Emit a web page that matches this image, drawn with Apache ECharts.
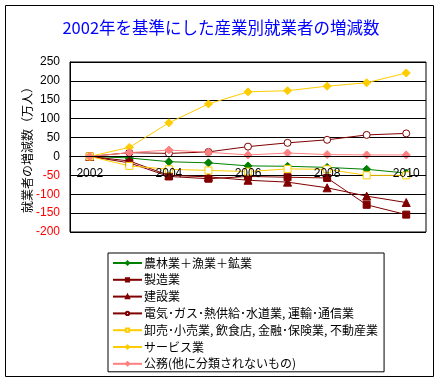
<!DOCTYPE html>
<html>
<head>
<meta charset="utf-8">
<script src="https://cdn.jsdelivr.net/npm/echarts@6/dist/echarts.min.js"></script>
<style>html,body{margin:0;padding:0;background:#fff;}#c{width:442px;height:384px;}</style>
</head>
<body>
<div id="c"></div>
<script>
const years = ['2002','2003','2004','2005','2006','2007','2008','2009','2010'];
const seriesNames = [
  '農林業＋漁業＋鉱業',
  '製造業',
  '建設業',
  '電気･ガス･熱供給･水道業, 運輸･通信業',
  '卸売･小売業, 飲食店, 金融･保険業, 不動産業',
  'サービス業',
  '公務(他に分類されないもの)'
];
const agriculture   = [0, -4, -14, -17, -25, -26, -29, -34, -44];
const manufacturing = [0, -17, -53, -59, -53, -55, -57, -128, -154];
const construction  = [0, -12, -50, -54, -63, -68, -83, -105, -122];
const utilities     = [0, 10, 8, 12, 26, 36, 44, 57, 61];
const wholesale     = [0, -25, -34, -37, -40, -33, -34, -50, -50];
const services      = [0, 24, 89, 139, 171, 174, 186, 195, 221];
const publicService = [0, 10, 17, 11, 4, 9, 5, 4, 4];
const yTicks = [-200, -150, -100, -50, 0, 50, 100, 150, 200, 250];

const JP = "'Noto Sans CJK JP', sans-serif";
const NUM = "'Liberation Sans', Arial, sans-serif";

const H = 384, GRID_TOP = 62, GRID_BOTTOM = 152;
const yMin = yTicks[0], yMax = yTicks[yTicks.length - 1];
const gridH = H - GRID_TOP - GRID_BOTTOM;
const zeroOffset = -gridH * (0 - yMin) / (yMax - yMin);

function mk(name, data, color, symbol, size, fill) {
  return {
    name: name, type: 'line', data: data,
    symbol: symbol, symbolSize: size,
    lineStyle: {color: color, width: 1},
    itemStyle: {color: fill || color, borderColor: color, borderWidth: 1},
    emphasis: {disabled: true},
    animation: false
  };
}

const chart = echarts.init(document.getElementById('c'));
chart.setOption({
  animation: false,
  backgroundColor: '#fff',
  title: {
    text: '2002年を基準にした産業別就業者の増減数',
    left: 'center', top: 14,
    textStyle: {color: '#0000FF', fontSize: 16.5, fontWeight: 'normal', fontFamily: JP}
  },
  graphic: [{
    type: 'rect', silent: true, z: -10,
    shape: {x: 5.5, y: 5.5, width: 428, height: 371},
    style: {fill: 'none', stroke: '#000', lineWidth: 1}
  }],
  grid: {
    left: 70, right: 16, top: GRID_TOP, bottom: GRID_BOTTOM,
    show: true, borderColor: '#000', borderWidth: 1, backgroundColor: 'transparent'
  },
  legend: {
    orient: 'vertical', left: 108, top: 253,
    padding: [4, 6, 2, 4],
    borderColor: '#000', borderWidth: 1, backgroundColor: '#fff',
    itemWidth: 29, itemHeight: 4, itemGap: 4.8,
    data: seriesNames,
    textStyle: {fontSize: 12, fontFamily: JP, color: '#000', lineHeight: 12, padding: [0, 0, 0, -3]}
  },
  xAxis: {
    type: 'category', data: years, boundaryGap: true, z: 10,
    position: 'bottom', offset: zeroOffset,
    axisLine: {show: true, onZero: false, lineStyle: {color: '#000', width: 1}},
    axisTick: {show: false},
    axisLabel: {interval: 1, color: '#000', fontSize: 12, fontFamily: NUM, margin: 11},
    splitLine: {show: false}
  },
  yAxis: {
    type: 'value', min: yMin, max: yMax, interval: 50,
    name: '就業者の増減数（万人）', nameLocation: 'middle', nameRotate: 90, nameGap: 37,
    nameMoveOverlap: false,
    nameTextStyle: {fontSize: 12, fontFamily: JP, color: '#000'},
    axisLine: {show: true, onZero: false, lineStyle: {color: '#000', width: 1}},
    axisTick: {show: false},
    axisLabel: {
      fontSize: 12, fontFamily: NUM, margin: 10,
      color: function (v) { return Number(v) < 0 ? '#FF0000' : '#000'; }
    },
    splitLine: {show: true, lineStyle: {color: '#000', width: 1}}
  },
  series: [
    mk(seriesNames[0], agriculture, '#008000', 'diamond', 8),
    mk(seriesNames[1], manufacturing, '#800000', 'rect', 7),
    mk(seriesNames[2], construction, '#800000', 'triangle', 8),
    mk(seriesNames[3], utilities, '#800000', 'circle', 7, '#fff'),
    mk(seriesNames[4], wholesale, '#FFCC00', 'rect', 7, '#fff'),
    mk(seriesNames[5], services, '#FFCC00', 'diamond', 8),
    mk(seriesNames[6], publicService, '#FF8080', 'diamond', 8)
  ]
});
</script>
</body>
</html>
